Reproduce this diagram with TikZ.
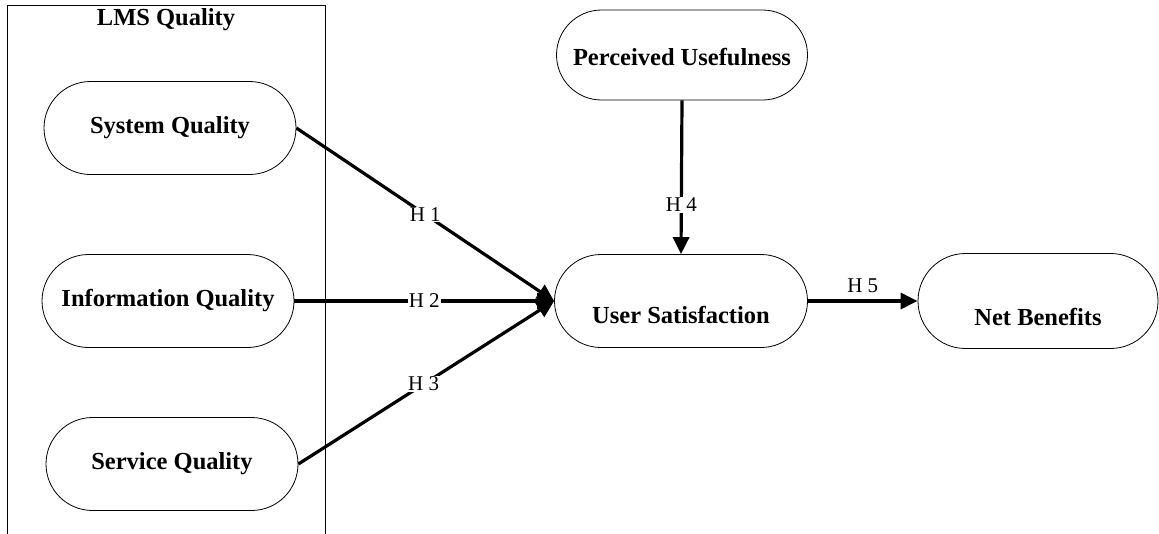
\documentclass[tikz,border=0pt]{standalone}
\usepackage{fontspec}
\setmainfont{Liberation Serif}
\usetikzlibrary{shapes.misc,arrows.meta}
\begin{document}
\begin{tikzpicture}[x=1pt,y=-1pt,
  construct/.style={draw,line width=0.8pt,rounded rectangle,minimum width=252pt,minimum height=93pt,font=\bfseries\fontsize{24.5}{28}\selectfont,inner sep=0pt},
  link/.style={line width=3.2pt,-{Triangle[length=17pt,width=16pt]}},
  hlab/.style={fill=white,inner sep=1pt,font=\fontsize{21}{24}\selectfont}]
\useasboundingbox (0,0) rectangle (1159,533);
\begin{scope}
\clip (0,0) rectangle (1159,533);
\draw[line width=0.8pt] (7,5) rectangle (325,560);
\end{scope}
\node[font=\bfseries\fontsize{24.5}{28}\selectfont] (lms) at (166,20) {LMS Quality};
\node[construct] (sq) at (170,128) {System Quality};
\node[construct] (iq) at (168,301) {Information Quality};
\node[construct] (svq) at (172,464) {Service Quality};
\node[construct,minimum width=251pt,minimum height=90pt] (pu) at (682,55) {\raisebox{-10pt}[0pt][0pt]{Perceived Usefulness}};
\node[construct,minimum width=253pt,minimum height=93pt] (us) at (681,301) {\raisebox{-22pt}[0pt][0pt]{User Satisfaction}};
\node[construct,minimum width=240pt,minimum height=95pt] (nb) at (1038,301) {\raisebox{-24pt}[0pt][0pt]{Net Benefits}};
\coordinate (tip) at (us.west);
\draw[link] (sq.east) -- node[hlab,pos=0.5]{H 1} (tip);
\draw[link] (iq.east) -- node[hlab,pos=0.5]{H 2} (tip);
\draw[link] (svq.east) -- node[hlab,pos=0.49]{H 3} (tip);
\draw[link] (pu.south) -- node[hlab,pos=0.68]{H 4} (us.north);
\draw[link] (us.east) -- node[above=3pt,font=\fontsize{21}{24}\selectfont]{H 5} (nb.west);
\end{tikzpicture}
\end{document}
